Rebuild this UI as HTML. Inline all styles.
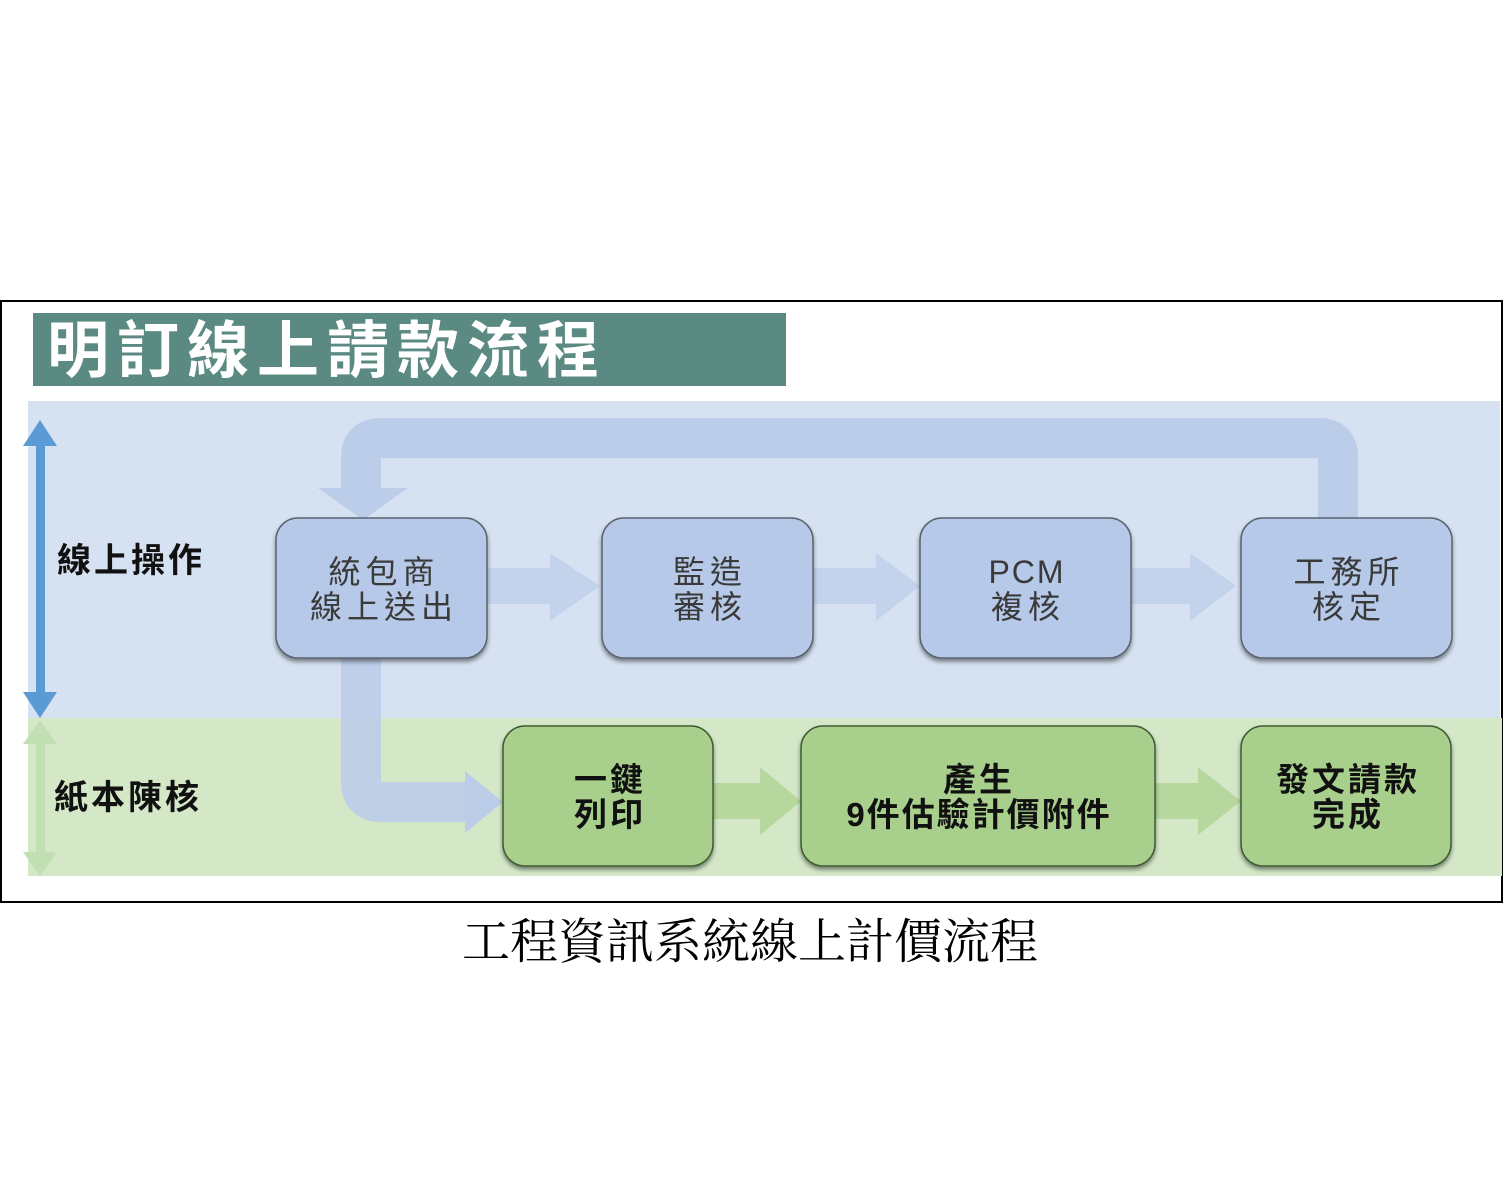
<!DOCTYPE html>
<html><head><meta charset="utf-8"><style>
html,body{margin:0;padding:0;background:#fff;}
svg{display:block;}
</style></head><body>
<svg width="1504" height="1200" xmlns="http://www.w3.org/2000/svg" font-family="'Liberation Sans','Noto Sans CJK TC',sans-serif">
<defs>
<filter id="sh" x="-10%" y="-10%" width="120%" height="125%"><feDropShadow dx="0" dy="3" stdDeviation="2" flood-color="#000" flood-opacity="0.45"/></filter>
</defs>
<rect x="1" y="301" width="1501" height="601" fill="#fff" stroke="#000" stroke-width="2"/>
<rect x="33" y="313" width="753" height="73" fill="#5b8a82"/>
<text x="47" y="372" font-size="62" font-weight="bold" fill="#fff" letter-spacing="8">明訂線上請款流程</text>
<rect x="28" y="401" width="1472" height="317" fill="#d6e2f1"/>
<rect x="28" y="718" width="1474" height="158" fill="#d4e8c8"/>
<rect x="36" y="440" width="9" height="255" fill="#5b9bd5"/>
<polygon points="40,420 23,446 57,446" fill="#5b9bd5"/>
<polygon points="40,718 23,692 57,692" fill="#5b9bd5"/>
<rect x="36" y="742" width="9" height="112" fill="#c2dfb4"/>
<polygon points="40,720 23,744 57,744" fill="#c2dfb4"/>
<polygon points="40,876 23,852 57,852" fill="#c2dfb4"/>
<text x="57" y="572" font-size="34" font-weight="bold" fill="#111" letter-spacing="3">線上操作</text>
<text x="54" y="809" font-size="34" font-weight="bold" fill="#111" letter-spacing="3">紙本陳核</text>
<path d="M1338,520 V457 Q1338,438 1319,438 H381 Q361,438 361,458 V492" fill="none" stroke="#bccde9" stroke-width="40"/>
<polygon points="318,488 408,488 363,520" fill="#bccde9"/>
<path d="M361,655 V782 Q361,802 381,802 H468" fill="none" stroke="#bccde9" stroke-width="40" opacity="0.9"/>
<polygon points="465,771 503,802 465,833" fill="#bccde9"/>
<g fill="#c3d3ec">
<rect x="487" y="568" width="65" height="36"/><polygon points="550,553 600,586 550,621"/>
<rect x="813" y="568" width="65" height="36"/><polygon points="876,553 920,586 876,621"/>
<rect x="1131" y="568" width="62" height="36"/><polygon points="1190,553 1236,586 1190,621"/>
</g>
<g fill="#b6d89f">
<rect x="713" y="783" width="50" height="36"/><polygon points="760,767 801,801 760,835"/>
<rect x="1155" y="783" width="45" height="36"/><polygon points="1198,767 1241,801 1198,835"/>
</g>
<g fill="#b7c9e8" stroke="#5a6270" stroke-width="1.5" filter="url(#sh)">
<rect x="276" y="518" width="211" height="140" rx="22"/>
<rect x="602" y="518" width="211" height="140" rx="22"/>
<rect x="920" y="518" width="211" height="140" rx="22"/>
<rect x="1241" y="518" width="211" height="140" rx="22"/>
</g>
<g fill="#3a3a3a" font-size="32" text-anchor="middle" letter-spacing="5">
<text x="384" y="583">統包商</text><text x="384" y="618">線上送出</text>
<text x="710" y="583">監造</text><text x="710" y="618">審核</text>
<text x="1027" y="583" letter-spacing="2">PCM</text><text x="1028" y="618">複核</text>
<text x="1349" y="583">工務所</text><text x="1349" y="618">核定</text>
</g>
<g fill="#a8d08c" stroke="#3f5a35" stroke-width="1.5" filter="url(#sh)">
<rect x="503" y="726" width="210" height="140" rx="22"/>
<rect x="801" y="726" width="354" height="140" rx="22"/>
<rect x="1241" y="726" width="210" height="140" rx="22"/>
</g>
<g fill="#111" font-size="33" font-weight="bold" text-anchor="middle" letter-spacing="3">
<text x="610" y="791">一鍵</text><text x="610" y="826">列印</text>
<text x="979" y="791">產生</text><text x="979" y="826" letter-spacing="2">9件估驗計價附件</text>
<text x="1348" y="791">發文請款</text><text x="1348" y="826">完成</text>
</g>
<text x="750" y="958" font-size="48" text-anchor="middle" fill="#000" font-family="'Liberation Serif','Noto Serif CJK SC',serif">工程資訊系統線上計價流程</text>
</svg>
</body></html>
